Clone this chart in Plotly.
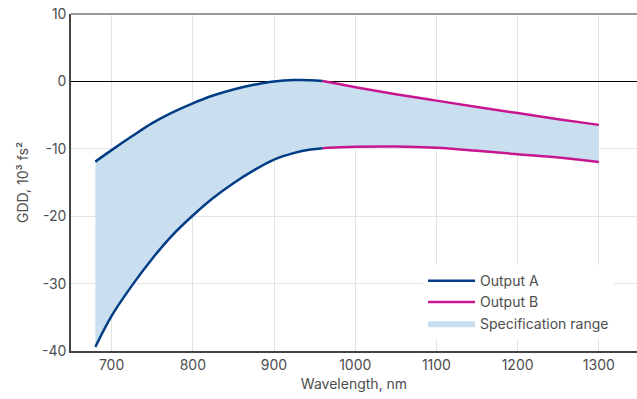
import plotly.graph_objects as go

# Output A (blue) — upper and lower limits
a_wl = [680, 700, 725, 750, 775, 800, 825, 850, 875, 900, 925, 945, 960]
a_upper = [-11.9, -10.2, -8.15, -6.2, -4.6, -3.25, -2.1, -1.2, -0.5, 0.0, 0.2, 0.18, 0.05]
a_lower = [-39.4, -34.8, -30.3, -26.3, -22.8, -19.9, -17.3, -15.1, -13.2, -11.6, -10.6, -10.1, -9.9]

# Output B (magenta) — upper and lower limits
b_wl = [960, 980, 1000, 1050, 1100, 1150, 1200, 1250, 1300]
b_upper = [0.05, -0.4, -0.86, -1.9, -2.85, -3.8, -4.7, -5.6, -6.45]
b_lower = [-9.9, -9.78, -9.7, -9.66, -9.85, -10.3, -10.8, -11.3, -11.95]

y_ticks = [10, 0, -10, -20, -30, -40]
y_tick_text = ["10", "0", "-10", "-20", "-30", "-40"]
x_ticks = [700, 800, 900, 1000, 1100, 1200, 1300]

BLUE = "#003d85"
MAGENTA = "#c7168f"
FILL = "#c9dfef"
TXT = "#4d4d4d"

env_wl = a_wl + b_wl[1:]
env_up = a_upper + b_upper[1:]
env_lo = a_lower + b_lower[1:]

fig = go.Figure()
fig.add_trace(go.Scatter(x=env_wl, y=env_up, mode="lines", line=dict(width=0, color=FILL, shape="spline"),
                         showlegend=False, hoverinfo="skip"))
fig.add_trace(go.Scatter(x=env_wl, y=env_lo, mode="lines", fill="tonexty", fillcolor=FILL,
                         line=dict(width=0, color=FILL, shape="spline"),
                         name="Specification range", legendrank=3, hoverinfo="skip"))
fig.add_trace(go.Scatter(x=a_wl, y=a_upper, mode="lines", line=dict(color=BLUE, width=2.5, shape="spline"),
                         name="Output A", legendgroup="A", legendrank=1))
fig.add_trace(go.Scatter(x=a_wl, y=a_lower, mode="lines", line=dict(color=BLUE, width=2.5, shape="spline"),
                         name="Output A", legendgroup="A", showlegend=False))
fig.add_trace(go.Scatter(x=b_wl, y=b_upper, mode="lines", line=dict(color=MAGENTA, width=2.5, shape="spline"),
                         name="Output B", legendgroup="B", legendrank=2))
fig.add_trace(go.Scatter(x=b_wl, y=b_lower, mode="lines", line=dict(color=MAGENTA, width=2.5, shape="spline"),
                         name="Output B", legendgroup="B", showlegend=False))

fig.update_layout(
    width=637, height=399,
    margin=dict(l=71, r=0, t=14, b=48),
    paper_bgcolor="white", plot_bgcolor="white",
    font=dict(family="Inter, Roboto, sans-serif", size=14, color=TXT),
    legend=dict(x=0.622, xanchor="left", y=0.035, yanchor="bottom",
                bgcolor="white", font=dict(size=14, color=TXT),
                tracegroupgap=0, itemwidth=47),
    showlegend=True,
    shapes=[dict(type="line", xref="paper", yref="paper", x0=0, x1=1, y0=1, y1=1,
                 line=dict(color="#777777", width=1.5))],
)
fig.update_xaxes(range=[650, 1347], tickvals=x_ticks, showgrid=True, gridcolor="#e3e3e3", gridwidth=1,
                 showline=True, linecolor="#444444", linewidth=1.5, ticks="", zeroline=False,
                 title=dict(text="Wavelength, nm", standoff=8, font=dict(size=14, color=TXT)))
fig.update_yaxes(range=[-40, 10], tickvals=y_ticks, ticktext=y_tick_text, showgrid=True, gridcolor="#e3e3e3",
                 gridwidth=1, showline=True, linecolor="#444444", linewidth=1.5, ticks="",
                 zeroline=True, zerolinecolor="#000000", zerolinewidth=1,
                 title=dict(text="GDD, 10³ fs²", standoff=10, font=dict(size=14, color=TXT)))

fig.write_html("out.html")
